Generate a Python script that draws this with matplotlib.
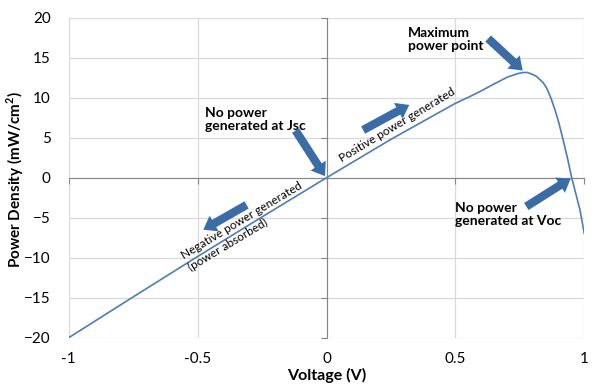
import matplotlib
matplotlib.use('Agg')
import matplotlib.pyplot as plt

plt.rcParams['font.family'] = ['Lato', 'DejaVu Sans']
plt.rcParams['mathtext.fontset'] = 'custom'
plt.rcParams['mathtext.rm'] = 'Lato'
plt.rcParams['mathtext.bf'] = 'Lato:bold'

# values
voltage = [-1.0, -0.75, -0.5, -0.25, 0.0, 0.25, 0.5, 0.55, 0.6, 0.64, 0.673,
           0.70, 0.74, 0.763, 0.78, 0.8, 0.815, 0.83, 0.84, 0.854, 0.87,
           0.886, 0.90, 0.918, 0.935, 0.951, 0.967, 0.983, 1.0]
power = [-20.0, -14.9, -9.85, -4.9, 0.0, 4.8, 9.3, 10.05, 10.85, 11.55, 12.1,
         12.55, 13.0, 13.15, 13.15, 12.9, 12.65, 12.2, 11.9, 11.2, 10.0,
         8.5, 7.0, 4.7, 2.4, 0.0, -2.0, -4.0, -7.0]

x_ticks = [-1, -0.5, 0, 0.5, 1]
x_tick_labels = ['-1', '-0.5', '0', '0.5', '1']
y_ticks = [-20, -15, -10, -5, 0, 5, 10, 15, 20]

line_col = '#4a7ebb'
arrow_col = '#3b6ca6'
grid_col = '#d9d9d9'
axis_col = '#868686'

fig = plt.figure(figsize=(5.99, 3.92), dpi=100)
ax = fig.add_axes([0.1147, 0.1385, 0.8608, 0.8163])

ax.plot(voltage, power, color=line_col, lw=1.2, zorder=3)

ax.set_xlim(-1, 1)
ax.set_ylim(-20, 20)
ax.set_xticks(x_ticks)
ax.set_yticks(y_ticks)
ax.grid(True, color=grid_col, lw=0.9)
for gl in ax.get_xgridlines() + ax.get_ygridlines():
    gl.set_clip_on(False)
ax.set_axisbelow(True)

# axes cross at zero, labels stay at the edges
for s in ['top', 'right']:
    ax.spines[s].set_visible(False)
ax.spines['left'].set_position(('data', 0))
ax.spines['bottom'].set_position(('data', 0))
ax.spines['left'].set_color(axis_col)
ax.spines['bottom'].set_color(axis_col)
ax.tick_params(axis='both', direction='out', length=4, color=axis_col,
               labelbottom=False, labelleft=False)

secx = ax.secondary_xaxis(0)
secx.set_xticks(x_ticks)
secx.set_xticklabels(x_tick_labels)
secx.spines['bottom'].set_visible(False)
secx.tick_params(length=0, pad=10, labelsize=11)
secx.set_xlabel('Voltage (V)', fontsize=11.5, fontweight='bold', labelpad=2)

secy = ax.secondary_yaxis(0)
secy.set_yticks(y_ticks)
secy.spines['left'].set_visible(False)
secy.tick_params(length=0, pad=13, labelsize=11)

fig.text(15 / 599, 1 - 180 / 392, r'Power Density (mW/cm$^\mathbf{2}$)',
         fontsize=11, fontweight='bold', rotation=90, ha='center', va='center')

# fat arrows
arrows = [((-0.12, 5.9), (-0.006, 0.2)),
          ((0.142, 5.96), (0.321, 9.1)),
          ((0.627, 17.4), (0.761, 13.4)),
          ((0.775, -3.6), (0.947, -0.1)),
          ((-0.31, -3.4), (-0.478, -6.5))]
for tail, head in arrows:
    ax.annotate('', xy=head, xytext=tail,
                arrowprops=dict(arrowstyle='simple,head_length=0.9,head_width=1.3,tail_width=0.6',
                                mutation_scale=10, fc=arrow_col, ec='none',
                                shrinkA=0, shrinkB=0), zorder=4)

bold_kw = dict(fontsize=10, fontweight='bold', ha='left', va='top', linespacing=1.15)
ax.text(-0.472, 8.9, 'No power\ngenerated at Jsc', **bold_kw)
ax.text(0.317, 18.9, 'Maximum\npower point', **bold_kw)
ax.text(0.498, -3.0, 'No power\ngenerated at Voc', **bold_kw)

ax.text(0.275, 6.6, 'Positive power generated', fontsize=8.5, rotation=31,
        rotation_mode='anchor', ha='center', va='center')
ax.text(-0.316, -6.1, 'Negative power generated\n(power absorbed)', fontsize=8.5,
        rotation=31, rotation_mode='anchor', ha='center', va='center',
        multialignment='left', linespacing=1.25)

fig.savefig('out.png', dpi=100)
